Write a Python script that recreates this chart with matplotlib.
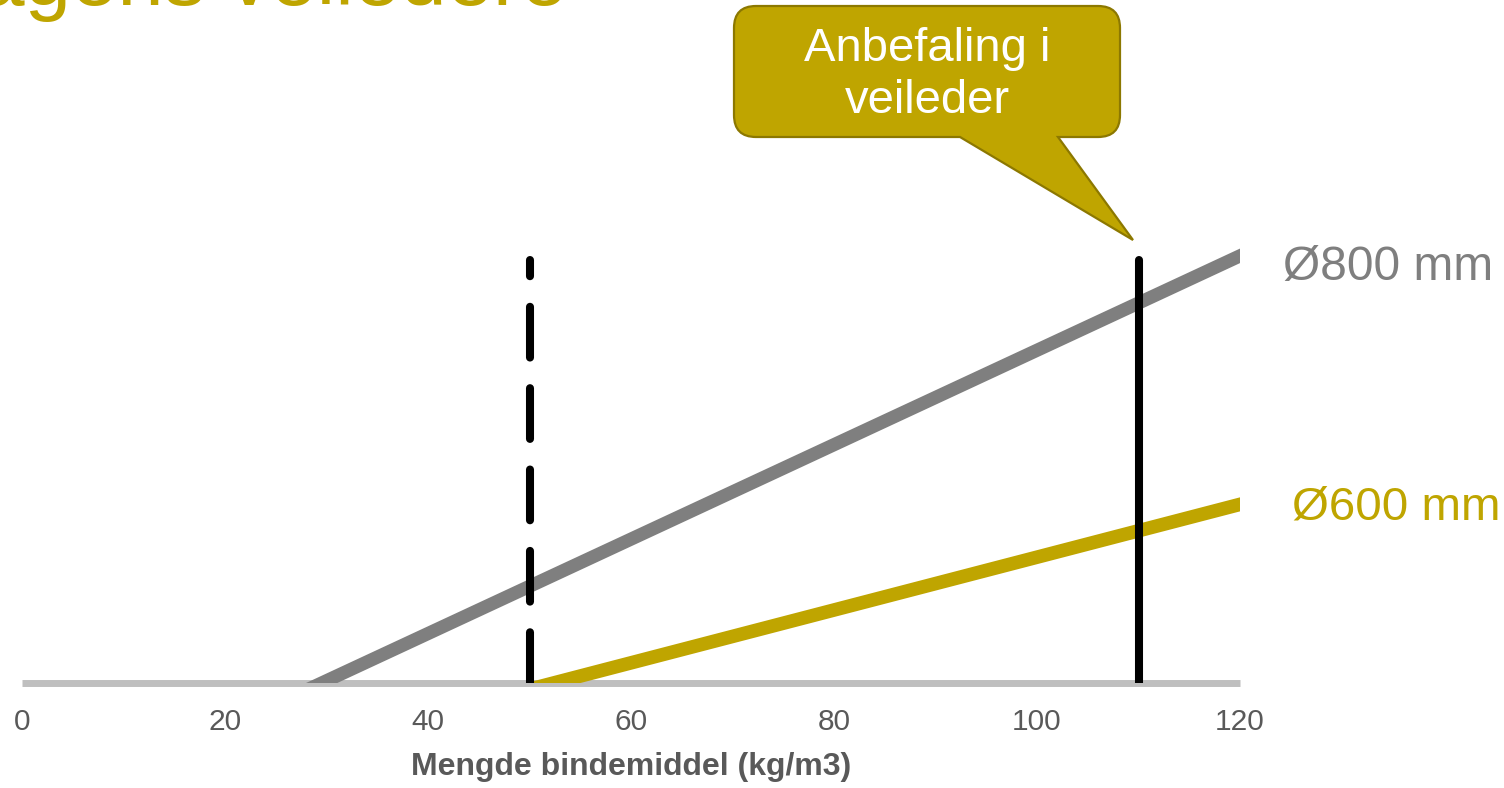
import matplotlib
matplotlib.use("Agg")
import matplotlib.pyplot as plt
from matplotlib.path import Path
from matplotlib.patches import PathPatch

plt.rcParams['font.family'] = ['Liberation Sans', 'DejaVu Sans']

# ---- data ----
x_ticks = [0, 20, 40, 60, 80, 100, 120]
gray_x = [25, 125]          # Ø800 mm line (crosses 0 at ~29.5)
gray_y = [-5, 105.5]
gold_x = [48, 125]          # Ø600 mm line (crosses 0 at ~52.4)
gold_y = [-2.7, 44.9]
dash_x = [50, 50]           # dashed reference
dash_y = [0, 99]
rec_x = [110, 110]          # recommendation in guideline
rec_y = [0, 99]
series_labels = ["Ø800 mm", "Ø600 mm"]
xlabel = "Mengde bindemiddel (kg/m3)"
callout_text = "Anbefaling i\nveileder"
title_text = "Dagens veiledere"

GRAY = "#7F7F7F"
GOLD = "#BFA500"
W, H = 1504, 788

fig = plt.figure(figsize=(W / 100, H / 100), dpi=100)
ax = fig.add_axes([22 / W, (H - 683) / H, 1218 / W, 470 / H])
ax.set_xlim(0, 120)
ax.set_ylim(0, 110)

ax.plot(gray_x, gray_y, color=GRAY, lw=9.5, solid_capstyle='butt', zorder=3)
ax.plot(gold_x, gold_y, color=GOLD, lw=9.8, solid_capstyle='butt', zorder=3)
ax.plot(dash_x, dash_y, color='black', lw=5.8, dashes=(6.3, 3.8),
        dash_capstyle='round', zorder=4)
ax.plot(rec_x, rec_y, color='black', lw=5.8, solid_capstyle='round', zorder=4)

for s in ['top', 'right', 'left']:
    ax.spines[s].set_visible(False)
ax.spines['bottom'].set_color('#BFBFBF')
ax.spines['bottom'].set_linewidth(5)
ax.spines['bottom'].set_capstyle('butt')
ax.spines['bottom'].set_zorder(1)
ax.set_yticks([])
ax.set_xticks(x_ticks)
ax.tick_params(axis='x', length=0, pad=18, labelsize=21.5, labelcolor='#595959')
ax.set_xlabel(xlabel, fontsize=23, fontweight='bold', color='#595959')
ax.xaxis.set_label_coords(0.5, -0.147)

def px(x, y):
    return (x / W, 1 - y / H)

# series labels at line ends
fig.text(*px(1283, 280), series_labels[0], color=GRAY, fontsize=34.5, va='baseline', ha='left')
fig.text(*px(1292, 519), series_labels[1], color=GOLD, fontsize=34.2, va='baseline', ha='left')

# title (cut off at top of slide, as in the reference)
fig.text(*px(567, 5), title_text, color=GOLD, fontsize=60, va='baseline', ha='right')

# callout shape
L, R, T, B, r = 734, 1120, 6, 137, 22
tip = (1133, 240)
pts = [
    ((L + r, T), Path.MOVETO),
    ((R - r, T), Path.LINETO),
    ((R, T), Path.CURVE3), ((R, T + r), Path.CURVE3),
    ((R, B - r), Path.LINETO),
    ((R, B), Path.CURVE3), ((R - r, B), Path.CURVE3),
    ((1058, B), Path.LINETO),
    (tip, Path.LINETO),
    ((960, B), Path.LINETO),
    ((L + r, B), Path.LINETO),
    ((L, B), Path.CURVE3), ((L, B - r), Path.CURVE3),
    ((L, T + r), Path.LINETO),
    ((L, T), Path.CURVE3), ((L + r, T), Path.CURVE3),
    ((L + r, T), Path.CLOSEPOLY),
]
verts = [px(*p) for p, _ in pts]
codes = [c for _, c in pts]
patch = PathPatch(Path(verts, codes), facecolor=GOLD, edgecolor='#8C7800',
                  lw=1.6, transform=fig.transFigure, zorder=5)
fig.patches.append(patch)
fig.text(*px(927, 75), callout_text, color='white', fontsize=34, ha='center',
         va='center', multialignment='center', linespacing=1.25, zorder=6)

fig.savefig("out.png", dpi=100)
